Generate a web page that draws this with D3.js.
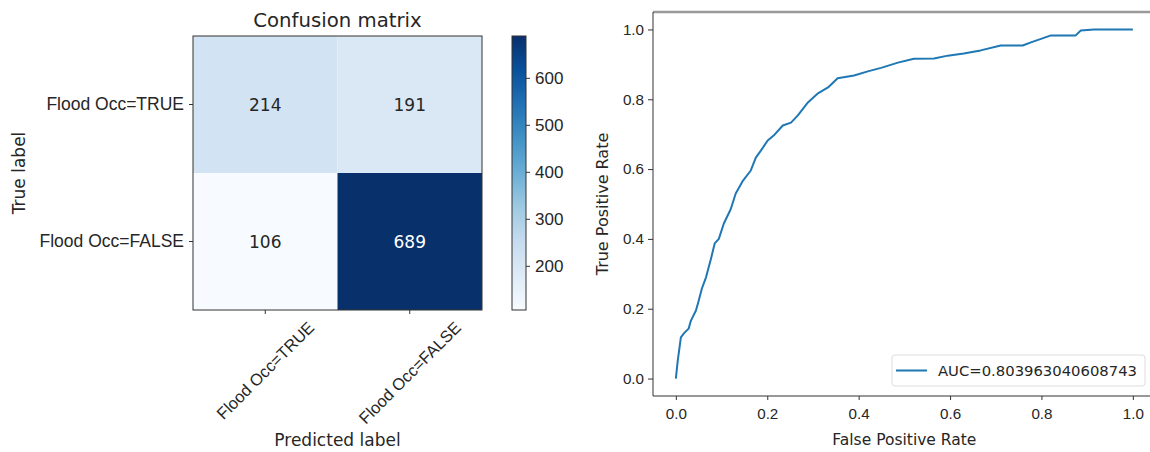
<!DOCTYPE html>
<html>
<head>
<meta charset="utf-8">
<script src="https://cdn.jsdelivr.net/npm/d3@7"></script>
<style>
    body { margin: 0; background: #fff; }
    svg { display: block; font-family: "DejaVu Sans", sans-serif; }
</style>
</head>
<body>
<svg id="chart" width="1150" height="452"></svg>
<script>
// confusion matrix values
const classes = ["Flood Occ=TRUE", "Flood Occ=FALSE"]
const matrix = [
    [214, 191],
    [106, 689]
]
const colorbarTicks = [200, 300, 400, 500, 600]

// roc curve
const fpr = [0, 0.004, 0.011, 0.018, 0.028, 0.033, 0.044, 0.05, 0.057, 0.066, 0.077, 0.085, 0.094, 0.105, 0.12, 0.131,
    0.147, 0.164, 0.175, 0.186, 0.201, 0.214, 0.234, 0.252, 0.267, 0.289, 0.311, 0.333, 0.354, 0.39, 0.42, 0.449,
    0.486, 0.521, 0.565, 0.595, 0.63, 0.667, 0.711, 0.759, 0.777, 0.821, 0.875, 0.886, 0.915, 1.0]
const tpr = [0, 0.05, 0.118, 0.13, 0.143, 0.166, 0.195, 0.223, 0.258, 0.29, 0.344, 0.387, 0.40, 0.444, 0.485, 0.53,
    0.567, 0.596, 0.633, 0.653, 0.682, 0.696, 0.725, 0.733, 0.754, 0.791, 0.817, 0.834, 0.86, 0.868, 0.88, 0.89,
    0.905, 0.916, 0.917, 0.925, 0.931, 0.94, 0.954, 0.954, 0.963, 0.983, 0.983, 0.997, 1.0, 1.0]
const rocTicks = [0, 0.2, 0.4, 0.6, 0.8, 1.0]
const aucLabel = "AUC=0.803963040608743"

const svg = d3.select("#chart")
const textColor = "#262626"
const spineColor = "#333"

drawConfusion()
drawRoc()

function styleAxis(g, size) {
    g.select(".domain").remove()
    g.selectAll(".tick line").attr("stroke", spineColor)
    g.selectAll(".tick text").attr("fill", textColor).style("font-size", size + "px")
}

function drawConfusion() {
    const box = { left: 193, right: 482, top: 36, bottom: 310 }
    const fontSize = 17

    const x = d3.scaleBand().domain(d3.range(classes.length)).range([box.left, box.right])
    const y = d3.scaleBand().domain(d3.range(classes.length)).range([box.top, box.bottom])

    const flat = matrix.flat()
    const vmin = d3.min(flat), vmax = d3.max(flat)
    const blues = d3.schemeBlues[9]
    const color = d3.scaleLinear()
        .domain(blues.map((d, i) => vmin + (vmax - vmin) * i / (blues.length - 1)))
        .range(blues)

    const cells = []
    matrix.forEach((row, i) => row.forEach((v, j) => cells.push({ i, j, v })))

    const g = svg.append("g").attr("id", "confusion")

    g.selectAll("rect.cell").data(cells).join("rect")
        .attr("class", "cell")
        .attr("x", d => x(d.j))
        .attr("y", d => y(d.i))
        .attr("width", x.bandwidth())
        .attr("height", y.bandwidth())
        .attr("fill", d => color(d.v))

    const thresh = vmax / 2
    g.selectAll("text.val").data(cells).join("text")
        .attr("class", "val")
        .attr("x", d => x(d.j) + x.bandwidth() / 2)
        .attr("y", d => y(d.i) + y.bandwidth() / 2)
        .attr("text-anchor", "middle")
        .attr("dominant-baseline", "central")
        .style("font-size", fontSize + "px")
        .attr("fill", d => d.v > thresh ? "#fff" : textColor)
        .text(d => d.v)

    g.append("rect")
        .attr("x", box.left).attr("y", box.top)
        .attr("width", box.right - box.left).attr("height", box.bottom - box.top)
        .attr("fill", "none").attr("stroke", spineColor).attr("stroke-width", 1)

    // y ticks
    const yAxis = g.append("g")
        .attr("transform", `translate(${box.left},0)`)
        .call(d3.axisLeft(y).tickSize(4).tickPadding(5).tickFormat(i => classes[i]))
    styleAxis(yAxis, fontSize + 0.5)

    // x ticks, labels rotated 45 and centered under the tick
    const rotSize = 16.5
    const xAxis = g.append("g")
        .attr("transform", `translate(0,${box.bottom})`)
        .call(d3.axisBottom(x).tickSize(4).tickFormat(i => classes[i]))
    styleAxis(xAxis, rotSize)
    xAxis.selectAll(".tick text")
        .attr("text-anchor", "middle")
        .attr("dominant-baseline", "central")
        .attr("y", null).attr("dy", null)
        .attr("transform", function () {
            const w = this.getComputedTextLength()
            const h = rotSize * 1.1
            const off = 8 + (w + h) * Math.SQRT1_2 / 2
            return `translate(0,${off}) rotate(-45)`
        })

    g.append("text")
        .attr("x", (box.left + box.right) / 2).attr("y", 20)
        .attr("text-anchor", "middle").attr("dominant-baseline", "central")
        .attr("fill", textColor).style("font-size", "19.7px")
        .text("Confusion matrix")

    g.append("text")
        .attr("transform", `translate(19,${(box.top + box.bottom) / 2}) rotate(-90)`)
        .attr("text-anchor", "middle").attr("dominant-baseline", "central")
        .attr("fill", textColor).style("font-size", fontSize + "px")
        .text("True label")

    g.append("text")
        .attr("x", (box.left + box.right) / 2).attr("y", 440)
        .attr("text-anchor", "middle").attr("dominant-baseline", "central")
        .attr("fill", textColor).style("font-size", fontSize + "px")
        .text("Predicted label")

    // colorbar
    const cb = { left: 512, right: 526, top: 36, bottom: 310 }
    const cy = d3.scaleLinear().domain([vmin, vmax]).range([cb.bottom, cb.top])

    const grad = svg.append("defs").append("linearGradient")
        .attr("id", "cbGrad").attr("x1", 0).attr("y1", 1).attr("x2", 0).attr("y2", 0)
    grad.selectAll("stop").data(blues).join("stop")
        .attr("offset", (d, i) => i / (blues.length - 1))
        .attr("stop-color", d => d)

    g.append("rect")
        .attr("x", cb.left).attr("y", cb.top)
        .attr("width", cb.right - cb.left).attr("height", cb.bottom - cb.top)
        .attr("fill", "url(#cbGrad)")
        .attr("stroke", spineColor).attr("stroke-width", 1)

    const cAxis = g.append("g")
        .attr("transform", `translate(${cb.right},0)`)
        .call(d3.axisRight(cy).tickValues(colorbarTicks).tickSize(4).tickPadding(5))
    styleAxis(cAxis, fontSize)
}

function drawRoc() {
    const left = 653, bottom = 396, top = 12
    const fontSize = 15.2

    const x = d3.scaleLinear().domain([-0.05, 1.05]).range([left, left + 1.1 * 457])
    const y = d3.scaleLinear().domain([-0.05, 1.05]).range([bottom, top])

    const g = svg.append("g").attr("id", "roc")
    const pts = fpr.map((d, i) => [d, tpr[i]])

    g.append("path")
        .datum(pts)
        .attr("fill", "none")
        .attr("stroke", "#1f77b4")
        .attr("stroke-width", 2)
        .attr("stroke-linejoin", "round")
        .attr("d", d3.line().x(d => x(d[0])).y(d => y(d[1])))

    // spines
    g.append("line").attr("x1", left).attr("x2", 1150).attr("y1", top).attr("y2", top)
        .attr("stroke", "#999").attr("stroke-width", 2.5)
    g.append("line").attr("x1", left).attr("x2", left).attr("y1", top).attr("y2", bottom)
        .attr("stroke", spineColor)
    g.append("line").attr("x1", left).attr("x2", 1150).attr("y1", bottom).attr("y2", bottom)
        .attr("stroke", spineColor)

    const xAxis = g.append("g").attr("transform", `translate(0,${bottom})`)
        .call(d3.axisBottom(x).tickValues(rocTicks).tickSize(4).tickPadding(8).tickFormat(d3.format(".1f")))
    styleAxis(xAxis, fontSize)

    const yAxis = g.append("g").attr("transform", `translate(${left},0)`)
        .call(d3.axisLeft(y).tickValues(rocTicks).tickSize(5).tickPadding(4).tickFormat(d3.format(".1f")))
    styleAxis(yAxis, fontSize)

    g.append("text")
        .attr("x", x(0.5)).attr("y", 440)
        .attr("text-anchor", "middle").attr("dominant-baseline", "central")
        .attr("fill", textColor).style("font-size", "15.5px")
        .text("False Positive Rate")

    g.append("text")
        .attr("transform", `translate(602,${y(0.5)}) rotate(-90)`)
        .attr("text-anchor", "middle").attr("dominant-baseline", "central")
        .attr("fill", textColor).style("font-size", "16px")
        .text("True Positive Rate")

    // legend
    const lg = g.append("g").attr("transform", "translate(892,355)")
    lg.append("rect")
        .attr("width", 253).attr("height", 31).attr("rx", 3)
        .attr("fill", "#fff").attr("fill-opacity", 0.8)
        .attr("stroke", "#ddd")
    lg.append("line")
        .attr("x1", 4).attr("x2", 35).attr("y1", 15.5).attr("y2", 15.5)
        .attr("stroke", "#1f77b4").attr("stroke-width", 2)
    lg.append("text")
        .attr("x", 46).attr("y", 15.5)
        .attr("dominant-baseline", "central")
        .attr("fill", textColor).style("font-size", "14.8px")
        .text(aucLabel)
}
</script>
</body>
</html>
